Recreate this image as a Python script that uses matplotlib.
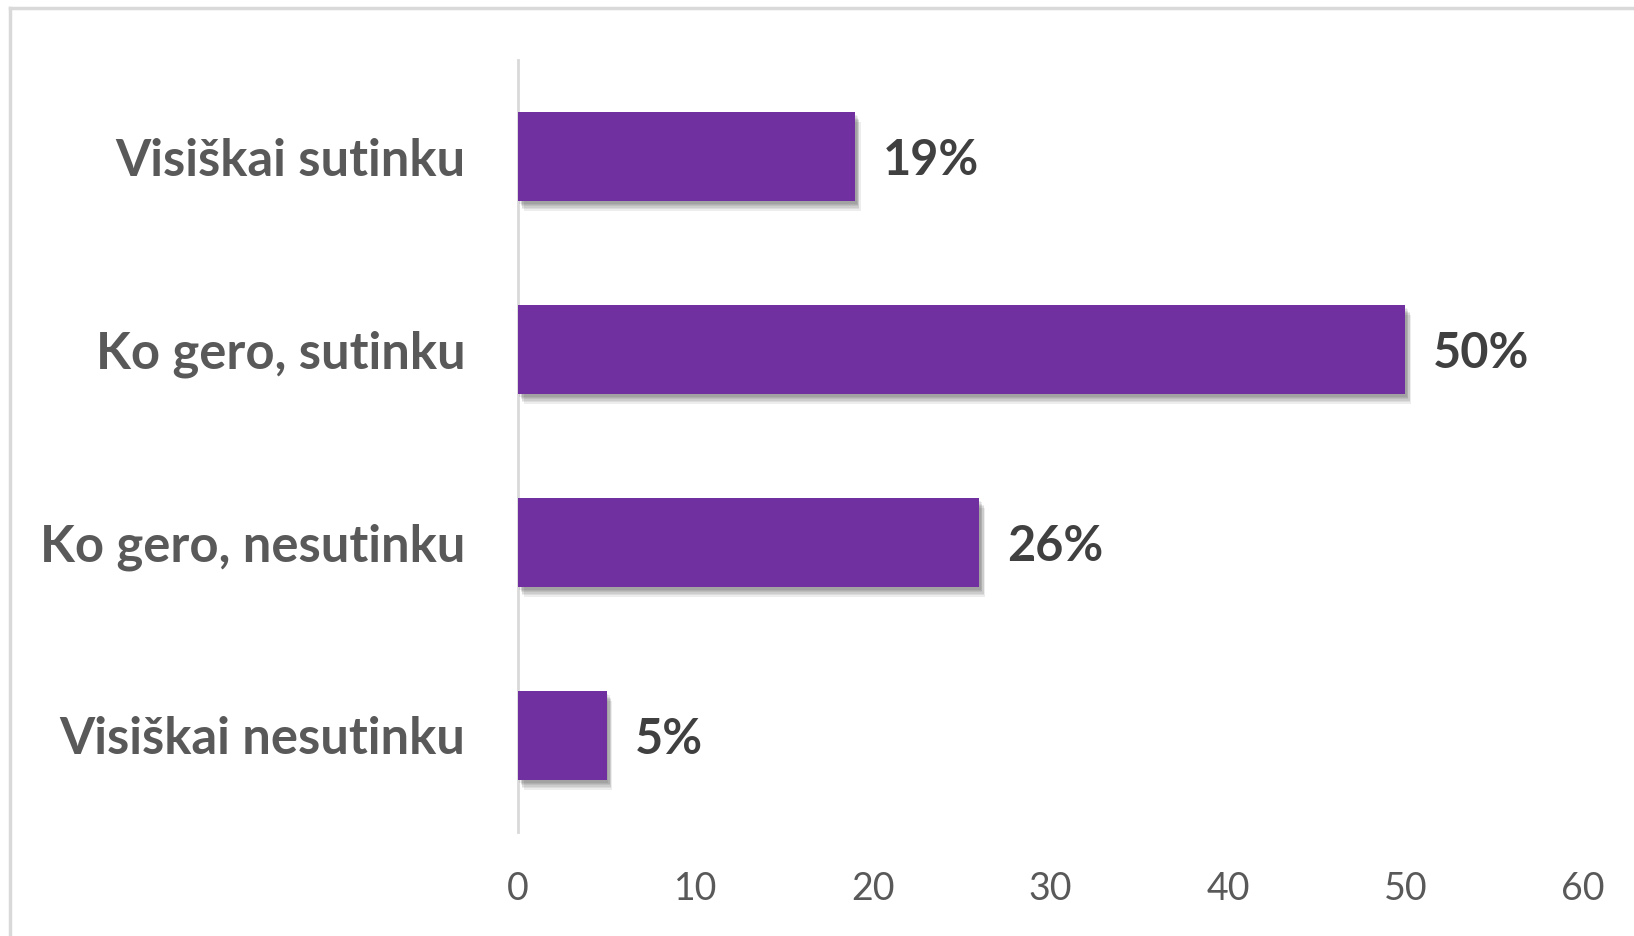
import matplotlib.pyplot as plt
import matplotlib.patheffects as pe
from matplotlib.lines import Line2D

# data
categories = ['Visiškai sutinku', 'Ko gero, sutinku', 'Ko gero, nesutinku', 'Visiškai nesutinku']
values = [19, 50, 26, 5]
value_labels = ['19%', '50%', '26%', '5%']
x_ticks = [0, 10, 20, 30, 40, 50, 60]

plt.rcParams['font.family'] = ['Lato', 'DejaVu Sans']

fig = plt.figure(figsize=(16.34, 9.36), dpi=100)
ax = fig.add_axes([518 / 1634, 1 - 832 / 936, (1583 - 518) / 1634, (832 - 60) / 936])

pos = list(range(len(categories)))
bars = ax.barh(pos, values, height=0.46, color='#7030A0', zorder=3)

# soft drop shadow, a few stacked layers to fake a blur
shadow = [pe.SimplePatchShadow(offset=(dx, -dy), alpha=0.07, shadow_rgbFace='#000000')
          for dx, dy in [(1, 2), (2, 3), (2, 4), (3, 5), (3, 6), (4, 7)]]
for b in bars:
    b.set_path_effects(shadow + [pe.Normal()])

for p, v, lab in zip(pos, values, value_labels):
    ax.annotate(lab, (v, p), xytext=(20, -3), textcoords='offset points',
                va='center', ha='left', fontsize=35, fontweight='bold', color='#404040')

ax.set_xlim(0, 60)
ax.set_ylim(3.5, -0.5)
ax.set_xticks(x_ticks)
ax.set_xticklabels([str(t) for t in x_ticks])
ax.set_yticks(pos)
ax.set_yticklabels(categories)

ax.tick_params(axis='x', length=0, pad=28, labelsize=27, labelcolor='#595959')
ax.tick_params(axis='y', length=0, pad=38, labelsize=36.5, labelcolor='#595959')
for t in ax.get_yticklabels():
    t.set_fontweight('bold')

for s in ['top', 'right', 'bottom']:
    ax.spines[s].set_visible(False)
ax.spines['left'].set_color('#D9D9D9')
ax.spines['left'].set_linewidth(2)

# chart border (only top and left visible in the crop)
fig.add_artist(Line2D([10 / 1634, 1.0], [1 - 8 / 936, 1 - 8 / 936], color='#D9D9D9', lw=2.5,
                      transform=fig.transFigure))
fig.add_artist(Line2D([10 / 1634, 10 / 1634], [1 - 8 / 936, 0], color='#D9D9D9', lw=2.5,
                      transform=fig.transFigure))

fig.savefig('out.png', dpi=100)
